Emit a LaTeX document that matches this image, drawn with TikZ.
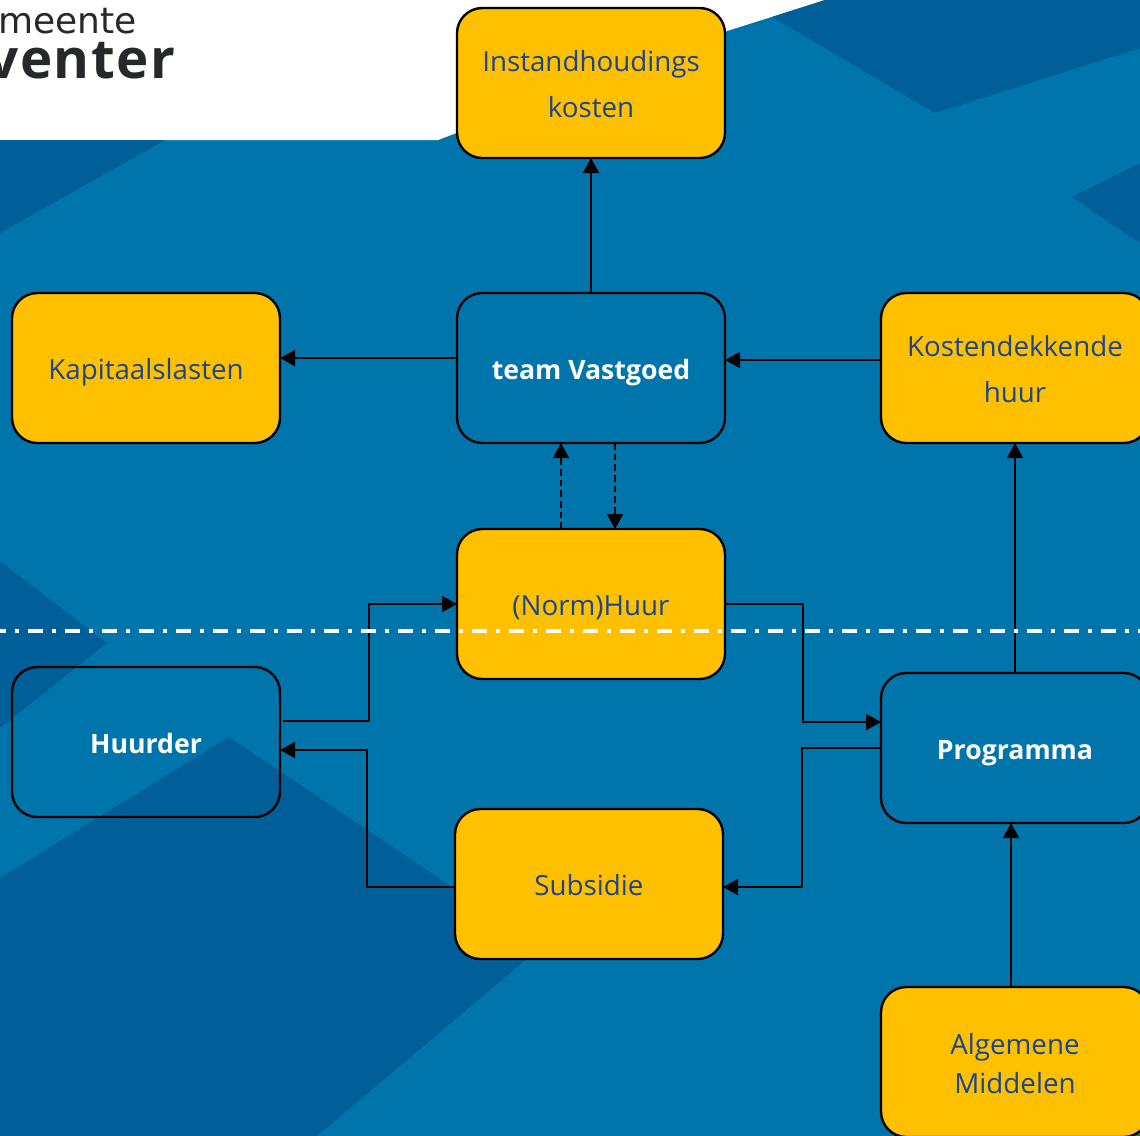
\documentclass[tikz,border=0pt]{standalone}
\usepackage{fontspec}
\setmainfont{Open Sans}
\newfontfamily\logofont{DejaVu Sans}
\newfontfamily\logoboldfont[LetterSpace=3]{Open Sans Bold}
\usetikzlibrary{arrows.meta}
\definecolor{bgblue}{HTML}{0075AC}
\definecolor{darkblue}{HTML}{005F99}
\definecolor{boxyellow}{HTML}{FFC000}
\definecolor{labelblue}{HTML}{1A4590}
\definecolor{logogray}{HTML}{26282B}
\newcommand\lowtext[2][8.25pt]{\smash{\raisebox{-#1}{#2}}}
\tikzset{
  x=0.75pt,y=-0.75pt,
  boxbase/.style={draw=black,line width=1.8pt,outer sep=0pt,rounded corners=19pt,minimum width=201pt,minimum height=112.5pt,inner sep=0pt,align=center},
  yellowbox/.style={boxbase,fill=boxyellow,text=labelblue,font=\fontsize{20.8}{34.5}\selectfont},
  bluebox/.style={boxbase,text=white,font=\fontsize{20}{34.5}\selectfont\bfseries},
  link/.style={draw=black,line width=1.5pt,-{Triangle[length=11.25pt,width=12pt]}},
  dashlink/.style={link,dash pattern=on 5pt off 3pt},
  divider/.style={draw=white,line width=2.6pt,dash pattern=on 11pt off 7pt on 2.75pt off 7pt,dash phase=6.75pt},
  bgshape/.style={fill=darkblue,draw=none},
}
\begin{document}
\begin{tikzpicture}
\useasboundingbox (0,0) rectangle (1140,1136);
\fill[bgblue] (0,0) rectangle (1140,1136);
\fill[white] (0,0) -- (825,0) -- (727,31) -- (438,140) -- (0,140) -- cycle;
\fill[bgshape] (772,17) -- (825,0) -- (1140,0) -- (1140,48) -- (935,113) -- cycle;
\fill[bgshape] (1072,197) -- (1140,163) -- (1140,243) -- cycle;
\fill[bgshape] (0,140) -- (165,140) -- (0,233) -- cycle;
\fill[bgshape] (0,561) -- (107,643) -- (0,728) -- cycle;
\fill[bgshape] (229,737) -- (541,947) -- (317,1136) -- (0,1136) -- (0,878) -- cycle;

\node[anchor=base east,inner sep=0pt,text=logogray,font=\logofont\fontsize{27}{27}\selectfont] (logoa) at (137,33) {meente};
\node[anchor=base east,inner sep=0pt,text=logogray,font=\logoboldfont\fontsize{41}{41}\selectfont] (logob) at (176,78) {venter};

\node[yellowbox] (inst) at (591,83) {\lowtext{Instandhoudings}\\\lowtext{kosten}};
\node[yellowbox] (kap) at (146,368) {\lowtext{Kapitaalslasten}};
\node[bluebox] (team) at (591,368) {\lowtext{team Vastgoed}};
\node[yellowbox] (kos) at (1015,368) {\lowtext{Kostendekkende}\\\lowtext{huur}};
\node[yellowbox] (norm) at (591,604) {\lowtext{(Norm)Huur}};
\node[bluebox] (huur) at (146,742) {\lowtext{Huurder}};
\node[yellowbox] (sub) at (589,884) {\lowtext{Subsidie}};
\node[bluebox] (prog) at (1015,748) {\lowtext{Programma}};
\node[yellowbox,font=\fontsize{20.8}{29.25}\selectfont] (alg) at (1015,1062) {\lowtext[9pt]{Algemene}\\\lowtext[9pt]{Middelen}};

\draw[link] (team.north) -- (inst.south);
\draw[link] ([yshift=7.5pt]team.west) -- ([yshift=7.5pt]kap.east);
\draw[link] ([yshift=6pt]kos.west) -- ([yshift=6pt]team.east);
\draw[dashlink] ([xshift=-22.5pt]norm.north) -- ([xshift=-22.5pt]team.south);
\draw[dashlink] ([xshift=18pt]team.south) -- ([xshift=18pt]norm.north);
\draw[link] ([xshift=2pt,yshift=15.75pt]huur.east) -- ++(86,0) |- (norm.west);
\draw[link] ([yshift=-2.25pt]sub.west) -- ++(-88,0) |- ([yshift=-6pt]huur.east);
\draw[link] (norm.east) -- ++(78,0) |- ([yshift=19.5pt]prog.west);
\draw[link] (prog.west) -- ++(-79,0) |- ([yshift=-2.25pt]sub.east);
\draw[link] (prog.north) -- (kos.south);
\draw[link] ([xshift=-3pt]alg.north) -- ([xshift=-3pt]prog.south);

\coordinate (divl) at (0,631);
\coordinate (divr) at (1140,631);
\draw[divider] (divl) -- (divr);
\end{tikzpicture}
\end{document}
